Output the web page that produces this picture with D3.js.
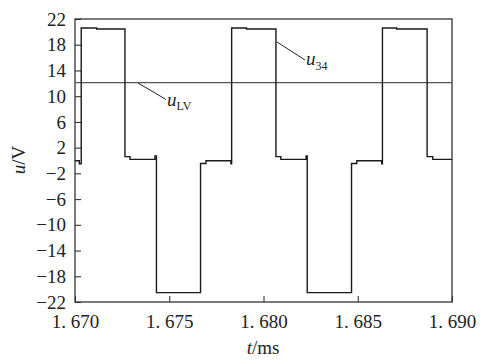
<!DOCTYPE html>
<html><head><meta charset="utf-8">
<script src="https://cdn.jsdelivr.net/npm/d3@7"></script>
<style>body{margin:0;background:#fff}svg text,svg tspan{font-family:"Liberation Serif" !important}</style>
</head><body><svg id="c" width="483" height="362"></svg>
<script>
const xTicks=[1.670,1.675,1.680,1.685,1.690];
const yTicks=[-22,-18,-14,-10,-6,-2,2,6,10,14,18,22];
// u34 step waveform (step-after breakpoints)
const u34T=[1.6700,1.67023,1.67033,1.67115,1.67265,1.67292,1.67424,1.67432,1.67666,1.67695,1.67827,1.67831,1.67910,1.68066,1.68092,1.68226,1.68232,1.68467,1.68495,1.68627,1.68631,1.68707,1.68868,1.68898,1.6900];
const u34V=[-0.05,-0.5,20.6,20.45,0.6,0.17,0.72,-20.55,-0.46,-0.05,-0.5,20.6,20.45,0.6,0.17,0.72,-20.55,-0.46,-0.05,-0.5,20.6,20.45,0.6,0.17,0.17];
// u_LV
const lvT=[1.6700,1.6900];
const lvV=[12.1,12.1];

const L=75,R=452,T=19,B=302;
const svg=d3.select("#c");
const x=d3.scaleLinear().domain([1.670,1.690]).range([L,R]);
const y=d3.scaleLinear().domain([-22,22]).range([B,T]);

svg.append("rect").attr("x",L).attr("y",T).attr("width",R-L).attr("height",B-T)
  .attr("fill","none").attr("stroke","#333").attr("stroke-width",1.3);

const xAxis=d3.axisBottom(x).tickValues(xTicks).tickSizeInner(-6).tickSizeOuter(0).tickPadding(13)
  .tickFormat(d=>d3.format(".3f")(d).replace(".",". "));
const yAxis=d3.axisLeft(y).tickValues(yTicks).tickSizeInner(-6).tickSizeOuter(0).tickPadding(9);
const xa=svg.append("g").attr("transform",`translate(0,${B})`).call(xAxis);
const ya=svg.append("g").attr("transform",`translate(${L},0)`).call(yAxis);
[xa,ya].forEach(g=>{g.attr("font-family","Liberation Serif").attr("font-size",19);
  g.select(".domain").remove();g.selectAll("line").attr("stroke","#333").attr("stroke-width",1.1);
  g.selectAll("text").style("font-family","Liberation Serif").style("font-size","19px").attr("fill","#222");});

const lvData=lvT.map((t,i)=>[t,lvV[i]]);
svg.append("path").datum(lvData).attr("fill","none").attr("stroke","#555").attr("stroke-width",1.2)
  .attr("d",d3.line().x(d=>x(d[0])).y(d=>y(d[1])));
const uData=u34T.map((t,i)=>[t,u34V[i]]);
svg.append("path").datum(uData).attr("fill","none").attr("stroke","#1a1a1a").attr("stroke-width",1.4)
  .attr("d",d3.line().curve(d3.curveStepAfter).x(d=>x(d[0])).y(d=>y(d[1])));

svg.append("line").attr("x1",138).attr("y1",83).attr("x2",166).attr("y2",99.5).attr("stroke","#222").attr("stroke-width",1);
svg.append("line").attr("x1",277).attr("y1",42).attr("x2",305).attr("y2",60).attr("stroke","#222").attr("stroke-width",1);
function txt(xp,yp){return svg.append("text").attr("x",xp).attr("y",yp).style("font-family","Liberation Serif").style("font-size","19px").attr("fill","#222");}
const a1=txt(167,106);
a1.append("tspan").style("font-style","italic").text("u");
a1.append("tspan").attr("dy",4).style("font-size","12px").text("LV");
const a2=txt(306,65);
a2.append("tspan").style("font-style","italic").text("u");
a2.append("tspan").attr("dy",5).style("font-size","12px").text("34");

const xt=txt(263,354).attr("text-anchor","middle");
xt.append("tspan").style("font-style","italic").text("t");
xt.append("tspan").text("/ms");
const yt=txt(0,0).attr("transform","translate(25,160) rotate(-90)").attr("text-anchor","middle");
yt.append("tspan").style("font-style","italic").text("u");
yt.append("tspan").text("/V");
</script></body></html>
